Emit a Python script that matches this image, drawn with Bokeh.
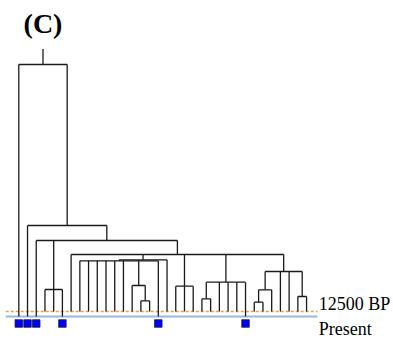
from bokeh.plotting import figure
from bokeh.models import Range1d, ColumnDataSource
from bokeh.core.properties import value
from bokeh.embed import file_html
from bokeh.resources import INLINE

# ---- data (heights in thousand years before present) ----
leaf_ages = [0, 0, 0, 12.5, 12.5, 0,
             12.5, 12.5, 12.5, 12.5, 12.5, 12.5, 12.5, 12.5, 12.5, 12.5,
             0,
             12.5, 12.5, 12.5, 12.5, 12.5, 12.5, 12.5, 12.5, 12.5,
             0,
             12.5, 12.5, 12.5, 12.5, 12.5, 12.5, 12.5]

node_names = ["rb", "r2", "r3", "R", "m1", "M", "K", "c1", "c2", "A", "B",
              "D", "E", "F", "G", "root"]
node_heights = [35.75, 66.75, 50.0, 112.5, 44.25, 85.75, 75.75, 39.25, 77.5,
                139.25, 141.75, 155.0, 67.5, 190.0, 227.5, 630.0]
node_children = [
    ["L27", "L28"],
    ["rb", "L29"],
    ["L32", "L33"],
    ["r2", "L30", "L31", "r3"],
    ["L21", "L22"],
    ["m1", "L23", "L24", "L25", "L26"],
    ["L18", "L19", "L20"],
    ["L14", "L15"],
    ["L13", "c1"],
    ["L7", "L8", "L9", "L10", "L11", "L12", "c2", "L16"],
    ["A", "L17"],
    ["L6", "B", "K", "M", "R"],
    ["L3", "L4", "L5"],
    ["L2", "E", "D"],
    ["L1", "F"],
    ["L0", "G"],
]
root_top = 669.0
ancient_age = 12.5
present_age = 0.0
ancient_label = "12500 BP"
present_label = "Present"
title_text = "(C)"

# ---- layout of the tree ----
pos_x = {}
pos_h = {}
for i, a in enumerate(leaf_ages):
    pos_x["L%d" % i] = float(i)
    pos_h["L%d" % i] = a
for name, h, ch in zip(node_names, node_heights, node_children):
    xs = [pos_x[c] for c in ch]
    pos_x[name] = (min(xs) + max(xs)) / 2.0
    pos_h[name] = h

x0, y0, x1, y1 = [], [], [], []
for name, h, ch in zip(node_names, node_heights, node_children):
    xs = [pos_x[c] for c in ch]
    x0.append(min(xs)); x1.append(max(xs)); y0.append(h); y1.append(h)
    for c in ch:
        x0.append(pos_x[c]); x1.append(pos_x[c]); y0.append(h); y1.append(pos_h[c])
x0.append(pos_x["root"]); x1.append(pos_x["root"])
y0.append(node_heights[-1]); y1.append(root_top)

seg = ColumnDataSource(dict(x0=x0, y0=y0, x1=x1, y1=y1))

present_idx = [i for i, a in enumerate(leaf_ages) if a == present_age]

p = figure(width=393, height=340, output_backend="svg", toolbar_location=None,
           x_range=Range1d(-2.099, 42.97), y_range=Range1d(-60, 790),
           min_border=0)
p.axis.visible = False
p.grid.visible = False
p.outline_line_color = None
p.background_fill_color = "white"
p.border_fill_color = "white"

# reference lines
lx = [-1.5, 34.24]
p.line(lx, [ancient_age, ancient_age], line_color="#f39a4c", line_width=1.3,
       line_dash="3 2")
p.line(lx, [present_age, present_age], line_color="#9ab6e6", line_width=2)

p.segment(x0="x0", y0="y0", x1="x1", y1="y1", source=seg,
          line_color="#1a1a1a", line_width=1.3)

p.scatter([float(i) for i in present_idx], [-17.5] * len(present_idx),
          marker="square", size=7.5, fill_color="#0000ff",
          line_color="#1a1a3a", line_width=0.8)

p.text([34.4], [ancient_age], text=[ancient_label], text_font=value("Liberation Serif"),
       text_font_size="18px", text_baseline="bottom", text_color="black",
       y_offset=2)
p.text([34.4], [present_age], text=[present_label], text_font=value("Liberation Serif"),
       text_font_size="18px", text_baseline="top", text_color="black",
       y_offset=2)
p.text([pos_x["root"]], [root_top], text=[title_text], text_font=value("Liberation Serif"),
       text_font_size="28px", text_font_style="bold", text_align="center",
       text_baseline="bottom", text_color="black", y_offset=-10)

open("out.html", "w").write(file_html(p, INLINE))
